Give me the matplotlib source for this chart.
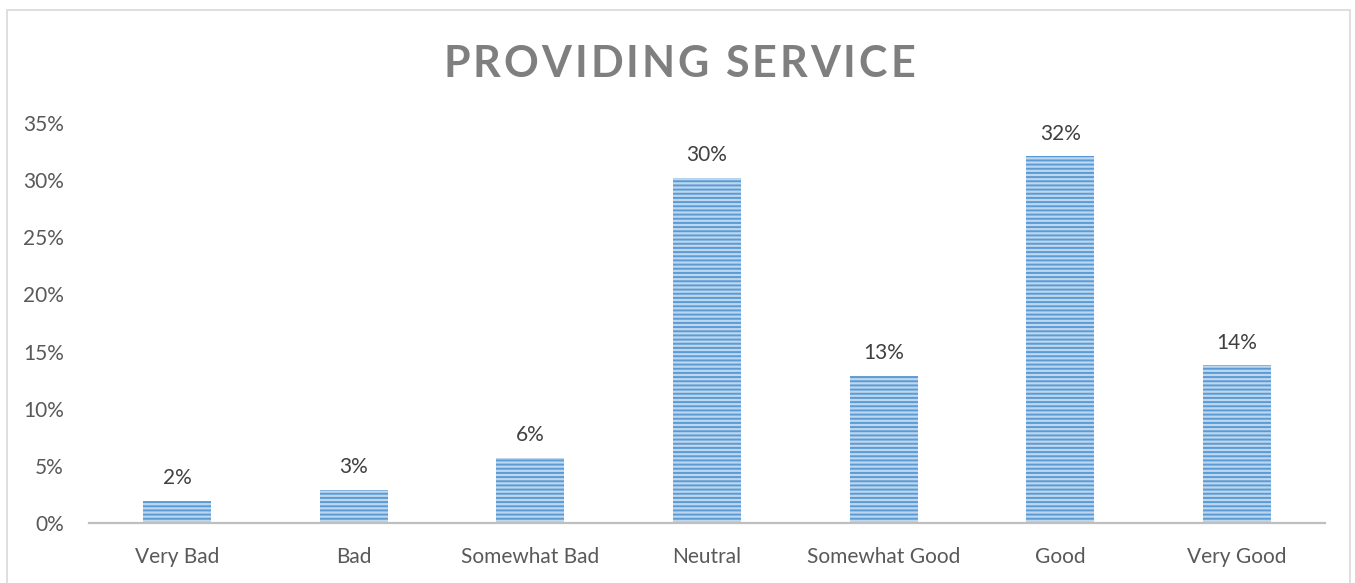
import matplotlib
matplotlib.use("Agg")
import matplotlib.pyplot as plt
from matplotlib.patches import Rectangle
from matplotlib.ticker import PercentFormatter, MultipleLocator

categories = ["Very Bad", "Bad", "Somewhat Bad", "Neutral",
              "Somewhat Good", "Good", "Very Good"]
shares = [0.0193, 0.029, 0.057, 0.302, 0.129, 0.321, 0.138]
title_text = "PROVIDING SERVICE"

plt.rcParams["font.family"] = ["Lato", "DejaVu Sans"]
plt.rcParams["hatch.linewidth"] = 1.4

W, H = 1355, 583
fig = plt.figure(figsize=(W / 100, H / 100), dpi=100)
ax = fig.add_axes([89 / W, 1 - 523 / H, (1325 - 89) / W, (523 - 123) / H])

x = range(len(categories))
ax.bar(x, shares, width=0.385, color="#BDD7EE", edgecolor="#5B9BD5",
       linewidth=0, hatch="----", zorder=2)

for xi, v in zip(x, shares):
    ax.annotate(f"{v:.0%}", (xi, v), xytext=(0, 9), textcoords="offset points",
                ha="center", va="bottom", fontsize=15, color="#404040")

ax.set_xlim(-0.5, len(categories) - 0.5)
ax.set_ylim(0, 0.35)
ax.yaxis.set_major_locator(MultipleLocator(0.05))
ax.yaxis.set_major_formatter(PercentFormatter(1.0, decimals=0))
ax.set_xticks(list(x))
ax.set_xticklabels(categories)
ax.tick_params(axis="both", length=0, labelsize=15, labelcolor="#595959")
ax.tick_params(axis="x", pad=17)
ax.tick_params(axis="y", pad=18)
for side in ("top", "right", "left"):
    ax.spines[side].set_visible(False)
ax.spines["bottom"].set_color("#BFBFBF")
ax.spines["bottom"].set_linewidth(1.6)
ax.spines["bottom"].set_zorder(3)

# chart frame
fig.patches.append(Rectangle((7 / W, -0.05), (1350 - 7) / W, 1.05 - 10 / H,
                             transform=fig.transFigure, fill=False,
                             edgecolor="#D9D9D9", linewidth=1.2))

# letter-spaced title
fig.canvas.draw()
renderer = fig.canvas.get_renderer()
tracking = 3.0
props = dict(fontsize=31, fontweight="bold", color="#7F7F7F")
widths = []
for ch in title_text:
    if ch == " ":
        widths.append(None)
        continue
    t = fig.text(0, 0, ch, **props)
    widths.append(t.get_window_extent(renderer).width)
    t.remove()
space_w = 10.0
total = sum((w if w is not None else space_w) for w in widths) + tracking * (len(title_text) - 1)
cx = 679
xpos = cx - total / 2
for ch, w in zip(title_text, widths):
    if w is None:
        xpos += space_w + tracking
        continue
    fig.text(xpos / W, 1 - 77 / H, ch, ha="left", va="baseline", **props)
    xpos += w + tracking

fig.savefig("out.png", dpi=100)
